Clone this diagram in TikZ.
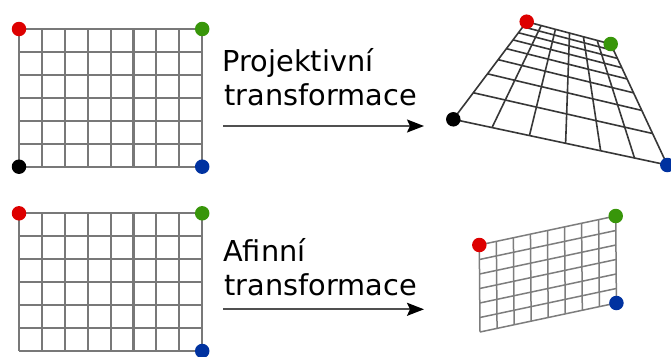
\documentclass[tikz,border=0pt]{standalone}
\usepackage{fontspec}
\setmainfont{DejaVu Sans}
\usetikzlibrary{calc,arrows.meta}
\definecolor{dotred}{RGB}{221,0,0}
\definecolor{dotgreen}{RGB}{56,150,10}
\definecolor{dotblue}{RGB}{0,50,160}
\definecolor{flatgray}{RGB}{120,120,120}
\definecolor{projgray}{RGB}{55,55,55}
\definecolor{affgray}{RGB}{125,125,125}
\definecolor{arrowgray}{RGB}{80,80,80}
\begin{document}
\begin{tikzpicture}[x=1pt,y=-1pt,
  flatgrid/.style={draw=flatgray,line width=2.1pt},
  projgrid/.style={draw=projgray,line width=1.6pt},
  affgrid/.style={draw=affgray,line width=1.5pt},
  cornerdot/.style={circle,inner sep=0pt,minimum size=14.5pt,draw=none},
  caption/.style={anchor=base west,inner sep=0pt,font=\fontsize{28.8}{33}\selectfont},
  maparrow/.style={draw=arrowgray,line width=1.8pt,
    -{Stealth[length=17pt,width=13pt,inset=3pt,color=black]}}]
\useasboundingbox (0,0) rectangle (671,356);
\fill[white] (0,0) rectangle (671,356);

% square grids on the left, 8 x 6 cells
\def\cw{22.9}
\def\ch{22.95}
\foreach \y in {29,213.3}{
  \foreach \i in {0,...,8}
    \draw[flatgrid] (19+\i*\cw,\y) -- (19+\i*\cw,\y+6*\ch);
  \foreach \j in {0,...,6}
    \draw[flatgrid] (19,\y+\j*\ch) -- (19+8*\cw,\y+\j*\ch);
}

% projective image: corners with their homogeneous weights
\coordinate (pA) at (453.3,119.3); \def\wA{1}
\coordinate (pB) at (667.3,165);   \def\wB{1.105}
\coordinate (pD) at (526.7,21.7);  \def\wD{2.618}
\coordinate (pC) at (610.7,44);    \def\wC{2.723}
\foreach \i in {0,...,6}{
  \pgfmathsetmacro\uu{\i/6}
  \pgfmathsetmacro\tbot{\uu*\wB/((1-\uu)*\wA+\uu*\wB)}
  \pgfmathsetmacro\ttop{\uu*\wC/((1-\uu)*\wD+\uu*\wC)}
  \draw[projgrid] ($(pA)!\tbot!(pB)$) -- ($(pD)!\ttop!(pC)$);
}
\foreach \j in {0,...,8}{
  \pgfmathsetmacro\vv{\j/8}
  \pgfmathsetmacro\tlft{\vv*\wD/((1-\vv)*\wA+\vv*\wD)}
  \pgfmathsetmacro\trgt{\vv*\wC/((1-\vv)*\wB+\vv*\wC)}
  \draw[projgrid] ($(pA)!\tlft!(pD)$) -- ($(pB)!\trgt!(pC)$);
}

% affine image: a parallelogram
\coordinate (aBL) at (480,332);
\coordinate (aTL) at (479.3,245);
\coordinate (aTR) at (615.7,216);
\coordinate (aBR) at (616.4,303);
\foreach \i in {0,...,8}
  \draw[affgrid] ($(aBL)!\i/8!(aBR)$) -- ($(aTL)!\i/8!(aTR)$);
\foreach \j in {0,...,6}
  \draw[affgrid] ($(aBL)!\j/6!(aTL)$) -- ($(aBR)!\j/6!(aTR)$);

% corner markers
\node[cornerdot,fill=dotred]   (sqRed)   at (19,29) {};
\node[cornerdot,fill=dotgreen] (sqGreen) at (202.2,29) {};
\node[cornerdot,fill=black]    (sqBlack) at (19,166.7) {};
\node[cornerdot,fill=dotblue]  (sqBlue)  at (202.2,166.7) {};
\node[cornerdot,fill=dotred]   (sqRedB)   at (19,213.3) {};
\node[cornerdot,fill=dotgreen] (sqGreenB) at (202.2,213.3) {};
\node[cornerdot,fill=dotblue]  (sqBlueB)  at (202.2,351) {};
\node[cornerdot,fill=dotred]   (prRed)   at (pD) {};
\node[cornerdot,fill=dotgreen] (prGreen) at (pC) {};
\node[cornerdot,fill=black]    (prBlack) at (pA) {};
\node[cornerdot,fill=dotblue]  (prBlue)  at (pB) {};
\node[cornerdot,fill=dotred]   (afRed)   at (aTL) {};
\node[cornerdot,fill=dotgreen] (afGreen) at (aTR) {};
\node[cornerdot,fill=dotblue]  (afBlue)  at (aBR) {};

% captions and arrows
\node[caption] (projA) at (222.5,71.7) {Projektivní};
\node[caption] (projB) at (224.2,105) {transformace};
\coordinate (arrAs) at (223,126);
\coordinate (arrAe) at (424,126);
\draw[maparrow] (arrAs) -- (arrAe);

\node[caption] (affA) at (223,261.7) {Afinní};
\node[caption] (affB) at (224.2,295) {transformace};
\coordinate (arrBs) at (223,309.3);
\coordinate (arrBe) at (424,309.3);
\draw[maparrow] (arrBs) -- (arrBe);
\end{tikzpicture}
\end{document}
